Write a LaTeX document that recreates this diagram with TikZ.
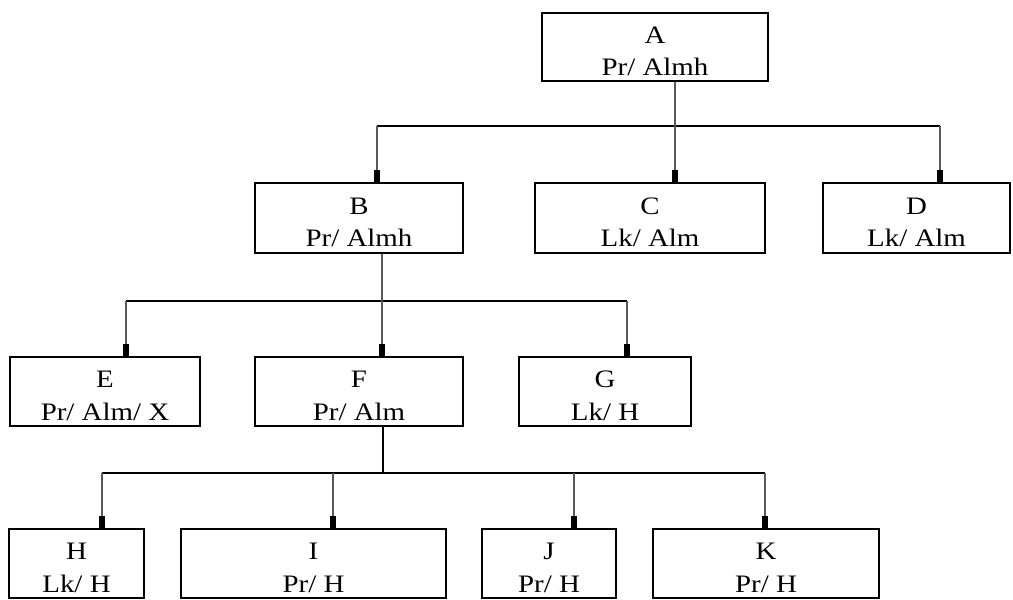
\documentclass[tikz,border=0pt]{standalone}
\usepackage{fontspec}
\setmainfont{Liberation Serif}[FakeStretch=1.15]
\usetikzlibrary{arrows.meta}

\begin{document}
\begin{tikzpicture}[x=0.02cm, y=-0.02cm,
    box/.style={draw, line width=1.3pt, align=center, inner sep=0pt, minimum height=1.38cm,
        font=\fontsize{14.3}{18.5}\selectfont, text height=32.5pt, text depth=0pt},
    link/.style={draw=black!65, line width=1pt, -{Rectangle[length=7pt,width=3.5pt,black]}},
    bar/.style={line width=1.4pt}]
    \useasboundingbox (0,0) rectangle (1013,599);

    % Level 0
    \node[box, minimum width=4.52cm, minimum height=1.36cm] (A) at (655,47) {A\\Pr/ Almh};

    % Level 1
    \node[box, minimum width=4.16cm, minimum height=1.4cm] (B) at (359,218) {B\\Pr/ Almh};
    \node[box, minimum width=4.6cm, minimum height=1.4cm] (C) at (650,218) {C\\Lk/ Alm};
    \node[box, minimum width=3.74cm, minimum height=1.4cm] (D) at (916.5,218) {D\\Lk/ Alm};

    % Level 2
    \node[box, minimum width=3.8cm] (E) at (105,391.5) {E\\Pr/ Alm/ X};
    \node[box, minimum width=4.16cm] (F) at (359,391.5) {F\\Pr/ Alm};
    \node[box, minimum width=3.44cm] (G) at (605,391.5) {G\\Lk/ H};

    % Level 3
    \node[box, minimum width=2.7cm] (H) at (76.5,563.5) {H\\Lk/ H};
    \node[box, minimum width=5.3cm] (I) at (313.5,563.5) {I\\Pr/ H};
    \node[box, minimum width=2.68cm] (J) at (549,563.5) {J\\Pr/ H};
    \node[box, minimum width=4.52cm] (K) at (766,563.5) {K\\Pr/ H};

    % A -> B, C, D
    \coordinate (b1l) at (377,126);
    \coordinate (b1m) at (675,126);
    \coordinate (b1r) at (940,126);
    \draw[bar] (b1l) -- (b1r);
    \draw[link] (A.south -| b1m) -- (C.north -| b1m);
    \draw[link] (b1l) -- (B.north -| b1l);
    \draw[link] (b1r) -- (D.north -| b1r);

    % B -> E, F, G
    \coordinate (b2l) at (126,301);
    \coordinate (b2m) at (382,301);
    \coordinate (b2r) at (627,301);
    \draw[bar] (b2l) -- (b2r);
    \draw[link] (B.south -| b2m) -- (F.north -| b2m);
    \draw[link] (b2l) -- (E.north -| b2l);
    \draw[link] (b2r) -- (G.north -| b2r);

    % F -> H, I, J, K
    \coordinate (b3l) at (102,473);
    \coordinate (b3m) at (383,473);
    \coordinate (b3r) at (765,473);
    \coordinate (b3i) at (333,473);
    \coordinate (b3j) at (574,473);
    \draw[bar] (b3l) -- (b3r);
    \draw[bar] (F.south -| b3m) -- (b3m);
    \draw[link] (b3l) -- (H.north -| b3l);
    \draw[link] (b3i) -- (I.north -| b3i);
    \draw[link] (b3j) -- (J.north -| b3j);
    \draw[link] (b3r) -- (K.north -| b3r);
\end{tikzpicture}
\end{document}
